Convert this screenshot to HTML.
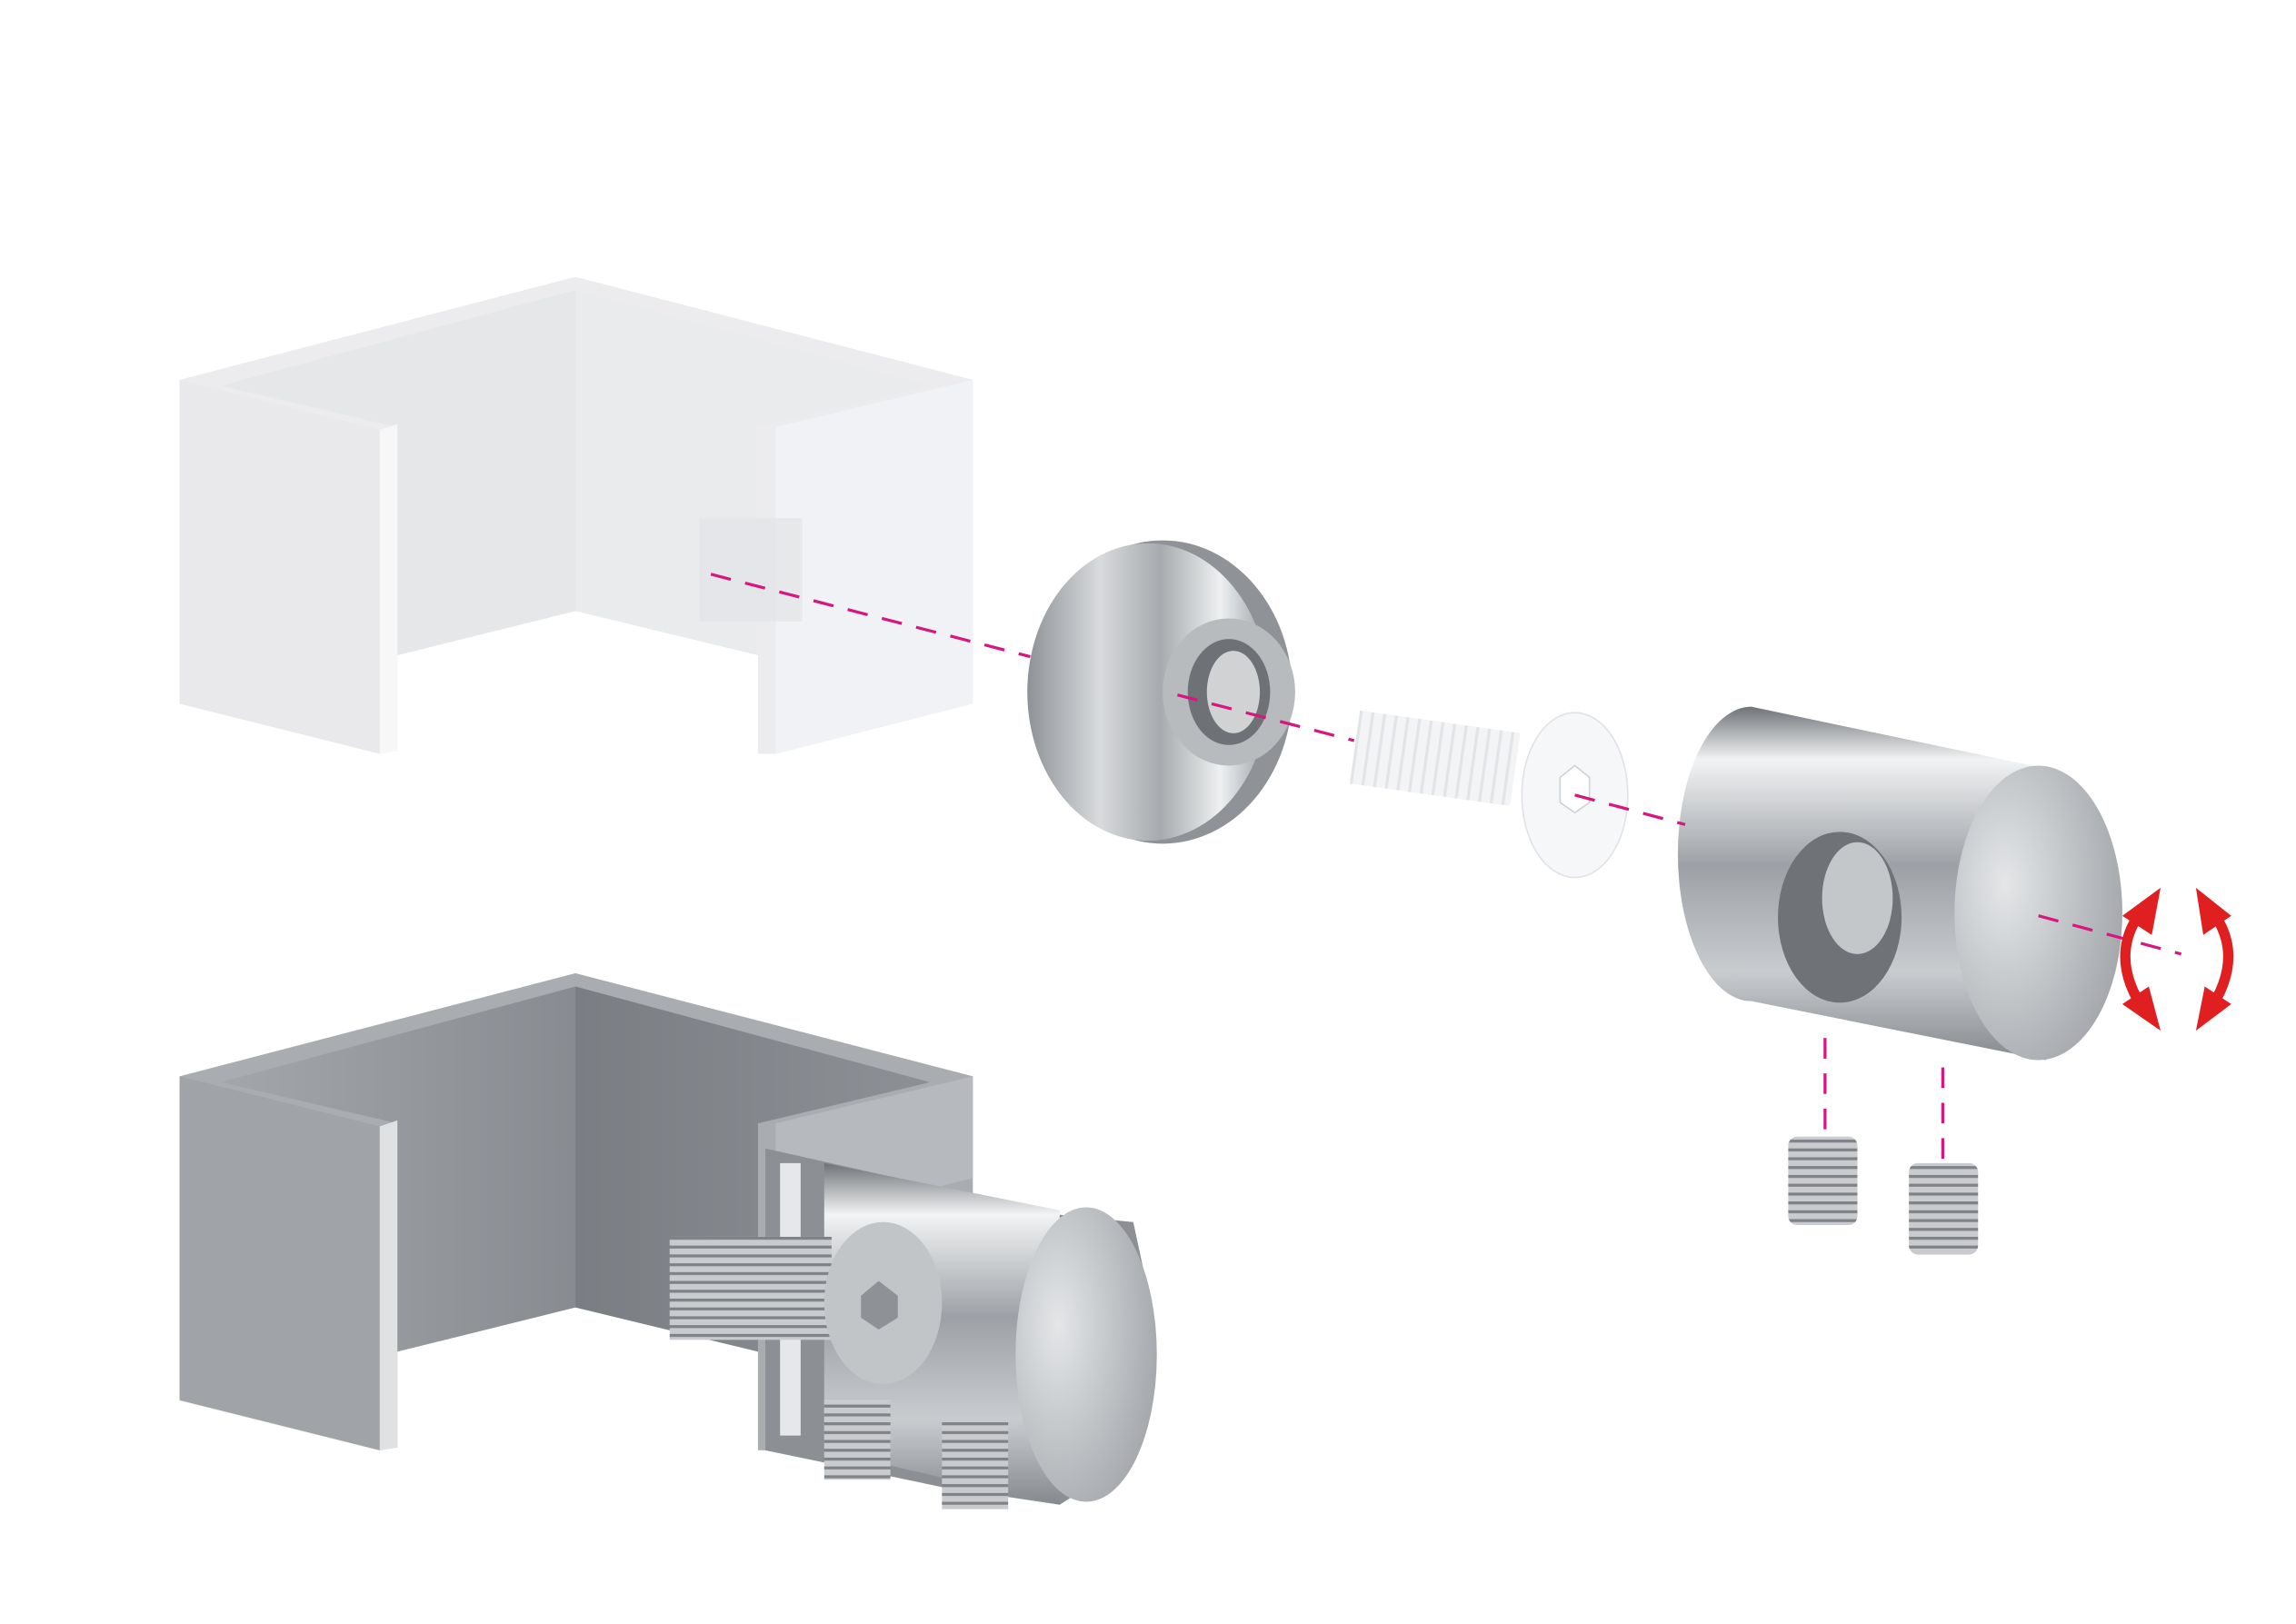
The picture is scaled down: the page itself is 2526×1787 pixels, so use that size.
<!DOCTYPE html>
<html><head><meta charset="utf-8"><style>html,body{margin:0;padding:0;background:#fff}svg{display:block}</style></head>
<body>
<svg width="2526" height="1787" viewBox="0 0 1560 1103" preserveAspectRatio="none" xmlns="http://www.w3.org/2000/svg">
<defs>
<linearGradient id="metal" x1="0" y1="0" x2="1" y2="0">
<stop offset="0" stop-color="#8e9297"/><stop offset="0.3" stop-color="#d8dadc"/><stop offset="0.55" stop-color="#a7aaae"/><stop offset="0.8" stop-color="#eef0f1"/><stop offset="1" stop-color="#9a9ea3"/></linearGradient>
<linearGradient id="barrel" x1="0" y1="0" x2="0" y2="1">
<stop offset="0" stop-color="#6f7378"/><stop offset="0.15" stop-color="#f2f3f4"/><stop offset="0.45" stop-color="#9da1a6"/><stop offset="0.75" stop-color="#c9cccf"/><stop offset="1" stop-color="#85898e"/></linearGradient>
<radialGradient id="cap" cx="0.3" cy="0.4" r="0.8"><stop offset="0" stop-color="#e4e6e8"/><stop offset="1" stop-color="#9ea2a6"/></radialGradient>
<linearGradient id="innerL" x1="0" y1="0" x2="1" y2="0"><stop offset="0" stop-color="#a3a6aa"/><stop offset="1" stop-color="#888c91"/></linearGradient>
<linearGradient id="innerR" x1="0" y1="0" x2="1" y2="0"><stop offset="0" stop-color="#7a7e83"/><stop offset="1" stop-color="#8d9196"/></linearGradient>
<pattern id="thread" width="6" height="6" patternUnits="userSpaceOnUse"><rect width="6" height="6" fill="#c9cbce"/><rect width="6" height="2" fill="#7f8388"/></pattern>
<pattern id="wthread" width="8" height="8" patternUnits="userSpaceOnUse"><rect width="8" height="8" fill="#f3f4f6"/><rect width="2" height="8" fill="#e2e4e7"/></pattern>
</defs>

<!-- top white channel -->
<polygon points="122,258 391,188 661,258 661,478 527,512 515,512 515,445 391,415 270,445 270,510 258,512 122,478" fill="#ececee"/>
<polygon points="150,262 391,197 391,415 270,445 270,290" fill="#e6e7e9"/>
<polygon points="391,197 632,262 515,290 515,445 391,415" fill="#eaebed"/>
<polygon points="122,258 258,292 258,512 122,478" fill="#e9e9eb"/>
<polygon points="258,292 270,288 270,510 258,512" fill="#f7f7f8"/>
<polygon points="527,290 661,258 661,478 527,512" fill="#f1f2f5"/>
<rect x="475" y="352" width="70" height="70" fill="#e4e5e7" opacity="0.8"/>

<!-- bottom grey channel -->
<polygon points="122,731 391,661 661,731 661,951 527,985 515,985 515,918 391,888 270,918 270,983 258,985 122,951" fill="#a9acb0"/>
<polygon points="150,735 391,670 391,888 270,918 270,763" fill="url(#innerL)"/>
<polygon points="391,670 632,735 515,763 515,918 391,888" fill="url(#innerR)"/>
<polygon points="122,731 258,765 258,985 122,951" fill="#a0a3a7"/>
<polygon points="258,765 270,761 270,983 258,985" fill="#e0e1e3"/>
<polygon points="527,763 661,731 661,800 527,835" fill="#b6b9bd"/>

<!-- bottom assembly clamp -->
<polygon points="520,780 720,825 770,830 785,900 770,990 720,1022 640,1010 520,985" fill="#8c9095"/>
<polygon points="560,790 720,822 720,1022 560,985" fill="url(#barrel)"/>
<ellipse cx="738" cy="920" rx="48" ry="100" fill="url(#cap)"/>
<rect x="530" y="790" width="14" height="185" fill="#e6e7e8"/>
<rect x="455" y="840" width="110" height="70" fill="url(#thread)"/>
<ellipse cx="600" cy="885" rx="40" ry="55" fill="#c2c5c8"/>
<polygon points="585,880 597,870 610,880 610,895 597,903 585,895" fill="#8e9297"/>
<rect x="560" y="950" width="45" height="55" fill="url(#thread)"/>
<rect x="640" y="965" width="45" height="60" fill="url(#thread)"/>

<!-- washer -->
<ellipse cx="790" cy="470" rx="88" ry="103" fill="#8f9398"/>
<ellipse cx="780" cy="470" rx="82" ry="101" fill="url(#metal)"/>
<ellipse cx="835" cy="470" rx="45" ry="50" fill="#b8bbbe"/>
<ellipse cx="835" cy="470" rx="28" ry="36" fill="#6e7277"/>
<ellipse cx="838" cy="470" rx="18" ry="28" fill="#d0d2d4"/>

<!-- white screw -->
<rect x="920" y="490" width="110" height="50" fill="url(#wthread)" transform="rotate(8 975 515)"/>
<ellipse cx="1070" cy="540" rx="36" ry="56" fill="#f6f7f9" stroke="#e0e2e5"/>
<polygon points="1060,528 1070,520 1080,528 1080,545 1070,552 1060,545" fill="#fff" stroke="#cfd2d6"/>

<!-- barrel -->
<path d="M1190,480 L1390,522 L1390,720 L1190,680 A50,100 0 0 1 1190,480 Z" fill="url(#barrel)"/>
<ellipse cx="1385" cy="620" rx="57" ry="100" fill="url(#cap)"/>
<ellipse cx="1250" cy="623" rx="42" ry="58" fill="#6f7378"/>
<ellipse cx="1262" cy="610" rx="24" ry="38" fill="#c4c7ca"/>

<!-- set screws -->
<rect x="1215" y="772" width="47" height="60" rx="6" fill="url(#thread)"/>
<rect x="1297" y="790" width="47" height="62" rx="6" fill="url(#thread)"/>

<!-- dashed axis -->
<g stroke="#d6177f" stroke-width="2" stroke-dasharray="14,10" fill="none">
<line x1="483" y1="390" x2="700" y2="446"/>
<line x1="800" y1="472" x2="920" y2="503"/>
<line x1="1070" y1="540" x2="1145" y2="560"/>
<line x1="1385" y1="622" x2="1482" y2="648"/>
<line x1="1240" y1="705" x2="1240" y2="772"/>
<line x1="1320" y1="725" x2="1320" y2="790"/>
</g>

<!-- red arrows -->
<g fill="none" stroke="#e02020" stroke-width="7">
<path d="M1458,615 Q1430,648 1458,688"/>
<path d="M1500,615 Q1528,648 1500,688"/>
</g>
<g fill="#e02020">
<polygon points="1442,622 1468,603 1462,635"/>
<polygon points="1442,682 1468,700 1460,670"/>
<polygon points="1516,622 1492,603 1497,635"/>
<polygon points="1516,682 1492,700 1498,670"/>
</g>
</svg>
</body></html>
